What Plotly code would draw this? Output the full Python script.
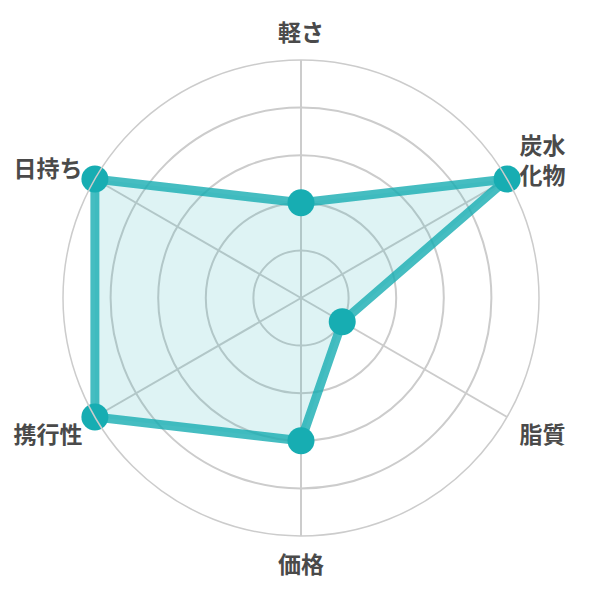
import plotly.graph_objects as go

# 評価項目と値 (0-5)
categories = ["軽さ", "炭水<br>化物", "脂質", "価格", "携行性", "日持ち"]
scores = [2, 5, 1, 3, 5, 5]
ring_values = [1, 2, 3, 4, 5]

TEAL = "#17adb2"


def plot_data() -> None:
    """Draw the radar chart."""
    theta = categories + categories[:1]
    r = scores + scores[:1]

    fig = go.Figure()

    fig.add_trace(go.Scatterpolar(
        r=r,
        theta=theta,
        mode="lines",
        fill="toself",
        fillcolor="rgba(23, 173, 178, 0.14)",
        line=dict(color="rgba(23, 173, 178, 0.8)", width=9),
        hoverinfo="skip",
    ))

    fig.add_trace(go.Scatterpolar(
        r=scores,
        theta=categories,
        mode="markers",
        marker=dict(color=TEAL, size=27),
        hovertemplate="%{theta}: %{r}<extra></extra>",
    ))

    fig.update_layout(
        polar=dict(
            bgcolor="white",
            radialaxis=dict(
                range=[0, 5],
                tickvals=ring_values,
                showticklabels=False,
                ticks="",
                showline=False,
                gridcolor="#cccccc",
                gridwidth=1.5,
            ),
            angularaxis=dict(
                rotation=90,
                direction="clockwise",
                # invisible ticks only push the labels away from the circle
                ticks="outside",
                ticklen=9,
                tickcolor="rgba(0, 0, 0, 0)",
                linecolor="#cccccc",
                linewidth=1.5,
                gridcolor="#cccccc",
                gridwidth=1.5,
                tickfont=dict(size=23, color="#4a4a4a", weight="bold",
                              family="Noto Sans CJK JP, sans-serif"),
            ),
        ),
        showlegend=False,
        paper_bgcolor="white",
        margin=dict(l=55, r=69, t=52, b=72),
        width=600,
        height=600,
        font=dict(family="Noto Sans CJK JP, sans-serif"),
    )

    fig.write_html("out.html")


def main() -> None:
    plot_data()


if __name__ == "__main__":
    main()
